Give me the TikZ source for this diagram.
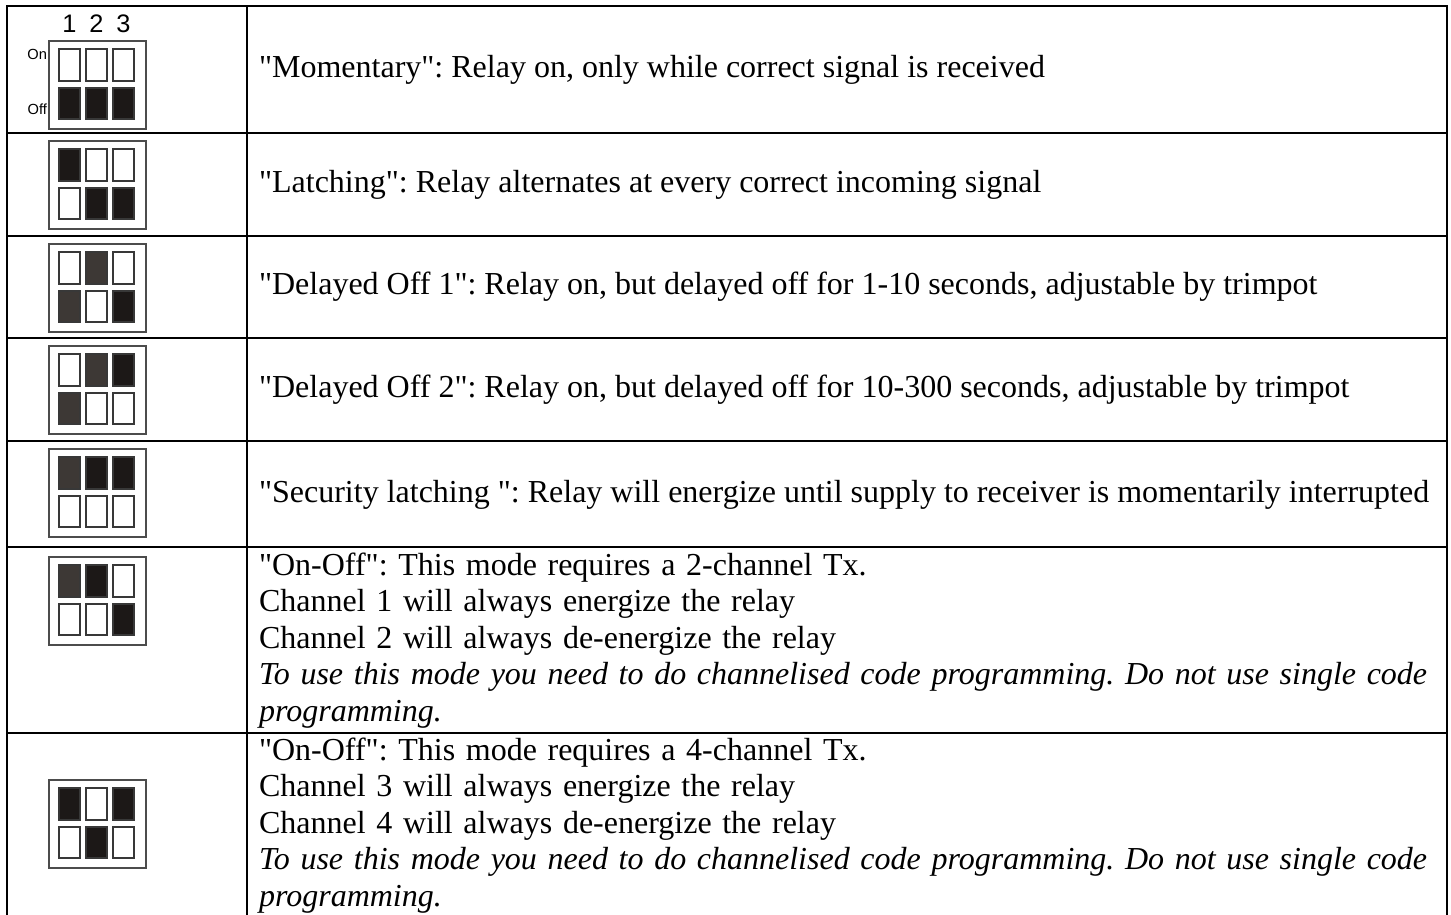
\documentclass[tikz,border=0pt]{standalone}
\usepackage{fontspec}
\setmainfont{Liberation Serif}[Ligatures=TeXOff]
\newfontfamily\dipfont{Liberation Sans}
\usetikzlibrary{positioning}

\definecolor{swblack}{HTML}{1C1817}
\definecolor{swgrey}{HTML}{3D3835}
\definecolor{swedge}{HTML}{383838}
\definecolor{frameedge}{HTML}{4C4C4C}

% one DIP switch icon: #1 top edge, #2-#4 upper fills, #5-#7 lower fills
\newcommand{\dipicon}[7]{%
  \draw[frm] (49,#1) rectangle (146,#1+88);
  \draw[sw, fill=#2] (59,#1+8) rectangle (80,#1+40);
  \draw[sw, fill=#3] (86,#1+8) rectangle (107,#1+40);
  \draw[sw, fill=#4] (113,#1+8) rectangle (134,#1+40);
  \draw[sw, fill=#5] (59,#1+47) rectangle (80,#1+78);
  \draw[sw, fill=#6] (86,#1+47) rectangle (107,#1+78);
  \draw[sw, fill=#7] (113,#1+47) rectangle (134,#1+78);}

\begin{document}
\frenchspacing
\begin{tikzpicture}[
    x=0.375pt, y=-0.375pt,
    rule/.style={line width=1.1pt},
    frm/.style={draw=frameedge, line width=0.55pt},
    sw/.style={draw=swedge, line width=0.7pt},
    cell/.style={anchor=base west, inner sep=0pt, font=\fontsize{12}{13.7}\selectfont},
    multi/.style={cell, text width=480pt, align=left},
    num/.style={anchor=base, inner sep=0pt, font=\dipfont\fontsize{9.5}{10}\selectfont},
    onoff/.style={anchor=base east, inner sep=0pt, font=\dipfont\fontsize{5.5}{6}\selectfont}]

  \useasboundingbox (0,0) rectangle (1451,915);

  % table rules
  \draw[rule] (7,915) -- (7,6) -- (1447,6) -- (1447,915);
  \foreach \y in {133,236,338,441,547,733}
    \draw[rule] (7,\y) -- (1447,\y);
  \draw[rule] (247,6) -- (247,915);

  % switch settings
  \node[num] (n1) at (69.5,33) {1};
  \node[num] (n2) at (96.5,33) {2};
  \node[num] (n3) at (123.5,33) {3};
  \node[onoff] (on) at (47.5,60) {On};
  \node[onoff] (off) at (47.5,115) {Off};

  \dipicon{41}{white}{white}{white}{swblack}{swblack}{swblack}
  \dipicon{141}{swblack}{white}{white}{white}{swblack}{swblack}
  \dipicon{244}{white}{swgrey}{white}{swgrey}{white}{swblack}
  \dipicon{346}{white}{swgrey}{swblack}{swgrey}{white}{white}
  \dipicon{449}{swgrey}{swblack}{swblack}{white}{white}{white}
  \dipicon{557}{swgrey}{swblack}{white}{white}{white}{swblack}
  \dipicon{780}{swblack}{white}{swblack}{white}{swblack}{white}

  % mode descriptions
  \node[cell] (m1) at (258.5,77.5)
    {"Momentary": Relay on, only while correct signal is received};
  \node[cell] (m2) at (258.5,192.5)
    {"Latching": Relay alternates at every correct incoming signal};
  \node[cell] (m3) at (258.5,295)
    {"Delayed Off 1": Relay on, but delayed off for 1-10 seconds, adjustable by trimpot};
  \node[cell] (m4) at (258.5,397.5)
    {"Delayed Off 2": Relay on, but delayed off for 10-300 seconds, adjustable by trimpot};
  \node[cell] (m5) at (258.5,502)
    {"Security latching ": Relay will energize until supply to receiver is momentarily interrupted};
  \node[multi] (m6) at (258.5,575)
    {"On-Off": This mode requires a 2-channel Tx.\\
     Channel 1 will always energize the relay\\
     Channel 2 will always de-energize the relay\\
     \textit{To use this mode you need to do channelised code programming. Do not use single code}\\
     \textit{programming.}};
  \node[multi] (m7) at (258.5,760)
    {"On-Off": This mode requires a 4-channel Tx.\\
     Channel 3 will always energize the relay\\
     Channel 4 will always de-energize the relay\\
     \textit{To use this mode you need to do channelised code programming. Do not use single code}\\
     \textit{programming.}};
\end{tikzpicture}
\end{document}
